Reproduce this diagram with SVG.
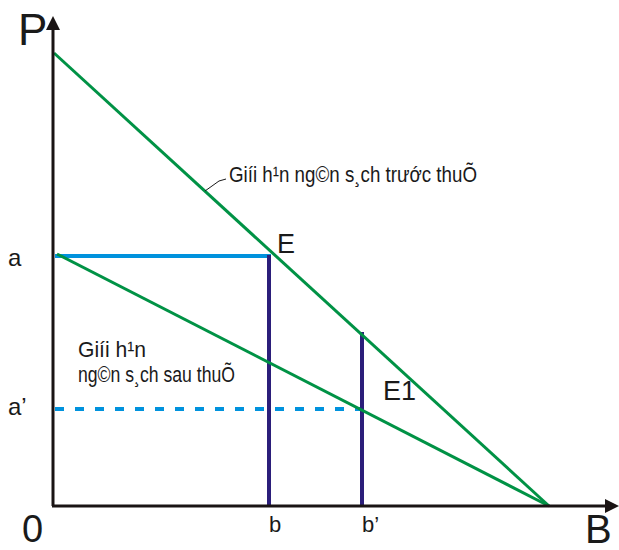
<svg xmlns="http://www.w3.org/2000/svg" width="619" height="550" viewBox="0 0 619 550">
<style>
.ax{stroke:#1a1414;stroke-width:3;fill:none}
.gr{stroke:#009245;stroke-width:3;fill:none}
.bl{stroke:#0092dd;stroke-width:4;fill:none}
.vb{stroke:#2b1e7a;stroke-width:4;fill:none}
.t{font-family:"Liberation Sans",Arial,sans-serif;fill:#1a1a1a}
.lab{font-family:"Liberation Sans",Arial,sans-serif;fill:#1a1a1a;font-size:22px}
</style>
<rect width="619" height="550" fill="#fff"/>
<g id="connectors">
<line class="bl" x1="55" y1="256" x2="271" y2="256"/>
<line class="bl" x1="55" y1="409" x2="362" y2="409" stroke-dasharray="9 11"/>
<line class="vb" x1="269" y1="255" x2="269" y2="505"/>
<line class="vb" x1="362" y1="332" x2="362" y2="505"/>
<line class="gr" x1="54" y1="53" x2="549" y2="506"/>
<line class="gr" x1="57" y1="254" x2="549" y2="506"/>
<polyline points="205,191 219,181 226,179" fill="none" stroke="#1a1a1a" stroke-width="1"/>
</g>
<g id="axes">
<line class="ax" x1="53" y1="506" x2="53" y2="28"/>
<polygon points="53,16 46,30 60,30" fill="#1a1414"/>
<line class="ax" x1="52" y1="506" x2="607" y2="506"/>
<polygon points="619,506 605,499 605,513" fill="#1a1414"/>
</g>
<g id="labels">
<text class="t" x="18" y="45" font-size="44">P</text>
<text class="t" x="22" y="542" font-size="38">0</text>
<text class="t" x="585" y="543" font-size="40">B</text>
<text class="t" x="8" y="266" font-size="24">a</text>
<text class="t" x="8" y="415" font-size="24">a’</text>
<text class="t" x="269" y="532" font-size="22">b</text>
<text class="t" x="362" y="532" font-size="22">b’</text>
<text class="t" x="277" y="253" font-size="27">E</text>
<text class="t" x="383" y="400" font-size="27">E1</text>
</g>
<g id="label-before">
<text class="lab" x="229" y="182" textLength="248" lengthAdjust="spacingAndGlyphs">Giíi h¹n ng©n s¸ch trước thuÕ</text>
</g>
<g id="label-after">
<text class="lab" x="78" y="357" textLength="68" lengthAdjust="spacingAndGlyphs">Giíi h¹n</text>
<text class="lab" x="78" y="382" textLength="157" lengthAdjust="spacingAndGlyphs">ng©n s¸ch sau thuÕ</text>
</g>
</svg>
